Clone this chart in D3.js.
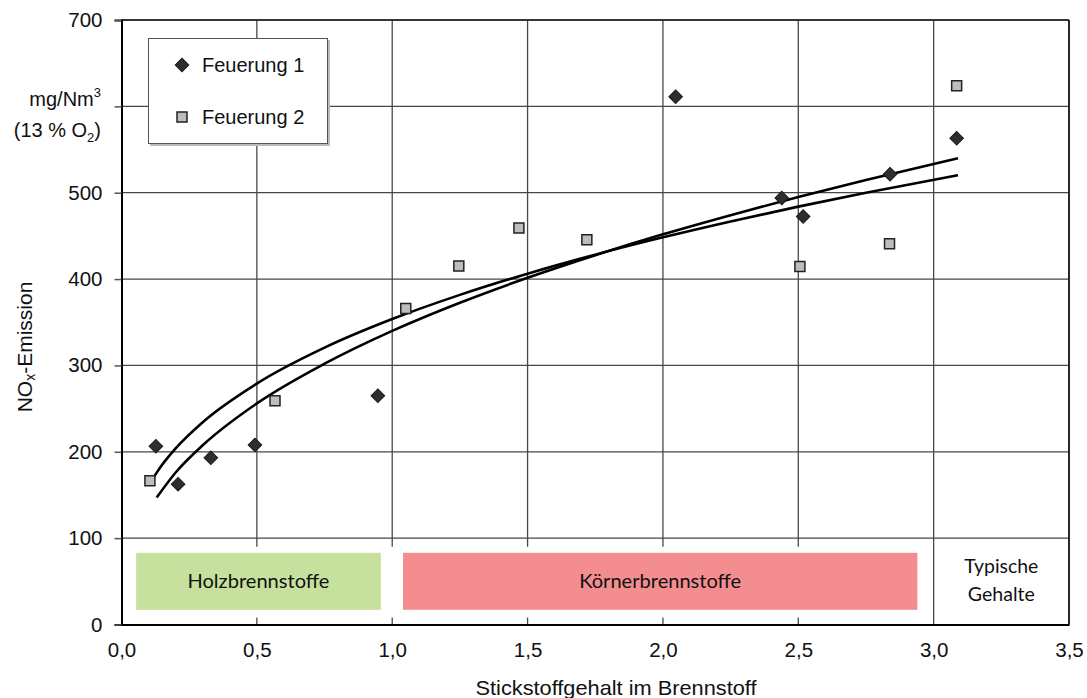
<!DOCTYPE html>
<html><head><meta charset="utf-8">
<script src="https://cdn.jsdelivr.net/npm/d3@7"></script>
<style>
html,body{margin:0;padding:0;background:#fff;}
svg{display:block;}
</style></head>
<body>
<svg id="chart" width="1087" height="698"></svg>
<script>
// ---- data ----
const xTicks = [0, 0.5, 1.0, 1.5, 2.0, 2.5, 3.0, 3.5];
const yTicks = [0, 100, 200, 300, 400, 500, 600, 700];

const f1X = [0.127, 0.209, 0.33, 0.493, 0.947, 2.047, 2.439, 2.518, 2.839, 3.085];
const f1Y = [206.5, 162.5, 193, 208, 265, 611, 494, 472.5, 521.5, 563];

const f2X = [0.105, 0.567, 1.05, 1.246, 1.468, 1.719, 2.506, 2.837, 3.085];
const f2Y = [166.5, 259, 366, 415, 459, 445.5, 414.6, 441, 624];

// trend curves
const trend1X = [0.13, 0.2, 0.3, 0.5, 0.75, 1.0, 1.25, 1.5, 1.75, 2.0, 2.25, 2.5, 2.75, 3.09];
const trend1Y = [147, 176, 207.5, 256, 302, 340, 372.6, 401.5, 427.7, 451.8, 474, 495, 514.8, 540];
const trend2X = [0.105, 0.15, 0.2, 0.3, 0.5, 0.75, 1.0, 1.25, 1.5, 1.75, 2.0, 2.25, 2.5, 2.75, 3.09];
const trend2Y = [163.6, 184.9, 204, 234.3, 279, 320.6, 353.7, 381.7, 406.3, 428.3, 448.3, 466.7, 483.9, 499.9, 520.2];

const bandNames = ["Holzbrennstoffe", "Körnerbrennstoffe"];
const bandFrom = [0.054, 1.04];
const bandTo = [0.958, 2.94];
const bandColors = ["#c6e19e", "#f48d8f"];
const bandYRange = [17, 83];
const coverYRange = [8, 90];

const legendNames = ["Feuerung 1", "Feuerung 2"];
const typischLines = ["Typische", "Gehalte"];

// ---- layout ----
const svg = d3.select("#chart");
const X0 = 121.5, X1 = 1069, Y0 = 624.5, Y1 = 20;
const x = d3.scaleLinear().domain([0, 3.5]).range([X0, X1]);
const y = d3.scaleLinear().domain([0, 700]).range([Y0, Y1]);
const fmt = d => d3.format(".1f")(d).replace(".", ",");
const SANS = "'Liberation Sans', Arial, sans-serif";
const CAL = "Lato, 'Open Sans', sans-serif";

const gridColor = "#474747";

// horizontal gridlines
svg.append("g").selectAll("line").data(yTicks.filter(d => d > 0)).join("line")
  .attr("x1", X0).attr("x2", X1)
  .attr("y1", d => y(d)).attr("y2", d => y(d))
  .attr("stroke", gridColor).attr("stroke-width", 1.3);

// vertical gridlines
svg.append("g").selectAll("line").data(xTicks.filter(d => d > 0 && d < 3.5)).join("line")
  .attr("x1", d => x(d)).attr("x2", d => x(d))
  .attr("y1", Y1).attr("y2", Y0)
  .attr("stroke", gridColor).attr("stroke-width", 1.3);

// white cover for band area (0 .. 3.0)
svg.append("rect")
  .attr("x", x(0) + 1).attr("width", x(3.0) - x(0) - 2)
  .attr("y", y(coverYRange[1])).attr("height", y(coverYRange[0]) - y(coverYRange[1]))
  .attr("fill", "#fff");

// bands
svg.append("g").selectAll("rect").data(bandNames).join("rect")
  .attr("x", (d, i) => x(bandFrom[i]))
  .attr("width", (d, i) => x(bandTo[i]) - x(bandFrom[i]))
  .attr("y", y(bandYRange[1]))
  .attr("height", y(bandYRange[0]) - y(bandYRange[1]))
  .attr("fill", (d, i) => bandColors[i]);
const bandLen = [142, 162];
svg.append("g").selectAll("text").data(bandNames).join("text")
  .attr("x", (d, i) => (x(bandFrom[i]) + x(bandTo[i])) / 2)
  .attr("y", y((bandYRange[0] + bandYRange[1]) / 2) + 7)
  .attr("text-anchor", "middle")
  .attr("font-family", CAL)
  .attr("font-size", 19).attr("fill", "#111")
  .attr("textLength", (d, i) => bandLen[i]).attr("lengthAdjust", "spacingAndGlyphs")
  .text(d => d);

const typLen = [74, 67];
svg.append("g").selectAll("text").data(typischLines).join("text")
  .attr("x", (x(3.0) + x(3.5)) / 2)
  .attr("y", (d, i) => 573 + i * 28)
  .attr("text-anchor", "middle")
  .attr("font-family", CAL)
  .attr("font-size", 18.5).attr("fill", "#111")
  .attr("textLength", (d, i) => typLen[i]).attr("lengthAdjust", "spacingAndGlyphs")
  .text(d => d);

// plot border
svg.append("line").attr("x1", X0).attr("x2", X1).attr("y1", Y1).attr("y2", Y1)
  .attr("stroke", "#222").attr("stroke-width", 1.5);
svg.append("line").attr("x1", X1).attr("x2", X1).attr("y1", Y1).attr("y2", Y0)
  .attr("stroke", "#111").attr("stroke-width", 1.8);

// axes
const yAxis = d3.axisLeft(y).tickValues(yTicks).tickSize(7).tickPadding(12).tickFormat(d3.format("d"));
const gy = svg.append("g").attr("transform", `translate(${X0},0)`).call(yAxis);
gy.select(".domain").attr("stroke", "#000").attr("stroke-width", 2);
gy.selectAll(".tick line").attr("stroke", "#555").attr("stroke-width", 1.5);
gy.selectAll(".tick text").attr("font-family", SANS)
  .attr("font-size", 20.5).attr("fill", "#111");
// hide labels for 600 (replaced by unit label)
gy.selectAll(".tick text").filter(d => d === 600).remove();

const xAxis = d3.axisBottom(x).tickValues(xTicks).tickSize(0).tickPadding(18).tickFormat(fmt);
const gx = svg.append("g").attr("transform", `translate(0,${Y0})`).call(xAxis);
gx.select(".domain").attr("stroke", "#000").attr("stroke-width", 2);
gx.selectAll(".tick text").attr("font-family", SANS)
  .attr("font-size", 20.5).attr("fill", "#111");

// unit label
const unit1 = svg.append("text").attr("x", 101).attr("y", 106)
  .attr("text-anchor", "end")
  .attr("font-family", SANS).attr("font-size", 20).attr("fill", "#111");
unit1.append("tspan").text("mg/Nm");
unit1.append("tspan").attr("font-size", 13).attr("dy", -9).text("3");
const unit2 = svg.append("text").attr("x", 101).attr("y", 137)
  .attr("text-anchor", "end")
  .attr("font-family", SANS).attr("font-size", 20).attr("fill", "#111");
unit2.append("tspan").text("(13 % O");
unit2.append("tspan").attr("font-size", 13).attr("dy", 5).text("2");
unit2.append("tspan").attr("dy", -5).text(")");

// y title
const yt = svg.append("text")
  .attr("transform", "translate(32,347) rotate(-90)")
  .attr("text-anchor", "middle")
  .attr("font-family", SANS).attr("font-size", 21).attr("fill", "#111");
yt.append("tspan").text("NO");
yt.append("tspan").attr("font-size", 14).attr("dy", 3).text("x");
yt.append("tspan").attr("dy", -3).text("-Emission");

// x title
svg.append("text").attr("x", 616).attr("y", 695).attr("text-anchor", "middle")
  .attr("font-family", SANS).attr("font-size", 21).attr("fill", "#111")
  .attr("textLength", 281).attr("lengthAdjust", "spacingAndGlyphs")
  .text("Stickstoffgehalt im Brennstoff");

// trend lines
const line = d3.line().x(d => x(d[0])).y(d => y(d[1])).curve(d3.curveMonotoneX);
svg.append("path").datum(d3.zip(trend1X, trend1Y)).attr("d", line)
  .attr("fill", "none").attr("stroke", "#000").attr("stroke-width", 2.6);
svg.append("path").datum(d3.zip(trend2X, trend2Y)).attr("d", line)
  .attr("fill", "none").attr("stroke", "#000").attr("stroke-width", 2.6);

// markers
svg.append("g").selectAll("path").data(d3.zip(f2X, f2Y)).join("path")
  .attr("d", d3.symbol().type(d3.symbolSquare).size(100))
  .attr("transform", d => `translate(${x(d[0])},${y(d[1])})`)
  .attr("fill", "#bdbdbd").attr("stroke", "#222").attr("stroke-width", 1.5);
svg.append("g").selectAll("path").data(d3.zip(f1X, f1Y)).join("path")
  .attr("d", d3.symbol().type(d3.symbolSquare).size(92))
  .attr("transform", d => `translate(${x(d[0])},${y(d[1])}) rotate(45)`)
  .attr("fill", "#2e2e2e").attr("stroke", "#1a1a1a").attr("stroke-width", 1);

// legend
const lg = svg.append("g");
lg.append("rect").attr("x", 150).attr("y", 40).attr("width", 180).attr("height", 106).attr("fill", "#bbb");
lg.append("rect").attr("x", 148.5).attr("y", 38.5).attr("width", 179).attr("height", 105)
  .attr("fill", "#fff").attr("stroke", "#555").attr("stroke-width", 1);
lg.append("path").attr("d", d3.symbol().type(d3.symbolSquare).size(92)())
  .attr("transform", "translate(182,65) rotate(45)").attr("fill", "#2e2e2e").attr("stroke", "#1a1a1a");
lg.append("path").attr("d", d3.symbol().type(d3.symbolSquare).size(100)())
  .attr("transform", "translate(182,117)").attr("fill", "#bdbdbd").attr("stroke", "#222").attr("stroke-width", 1.5);
lg.selectAll("text.lt").data(legendNames).join("text").attr("class", "lt")
  .attr("x", 202).attr("y", (d, i) => 72 + i * 52)
  .attr("font-family", SANS).attr("font-size", 20).attr("fill", "#111")
  .text(d => d);
</script>
</body></html>
